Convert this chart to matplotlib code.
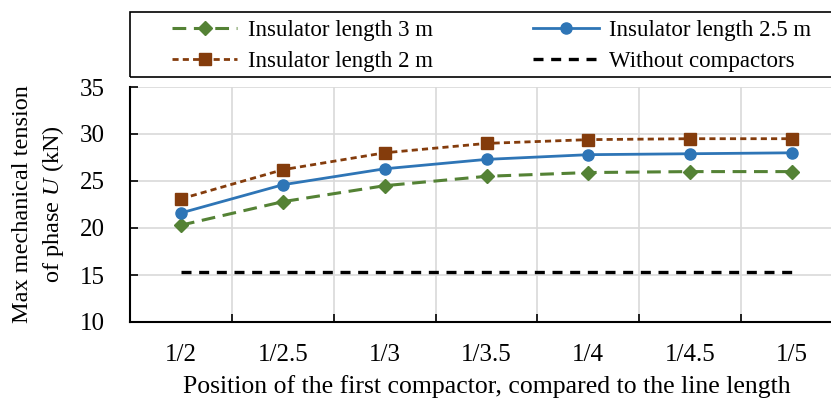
import matplotlib
matplotlib.use("Agg")
import matplotlib.pyplot as plt
from matplotlib.patches import Rectangle

plt.rcParams['font.family'] = ['Liberation Serif', 'DejaVu Serif']
plt.rcParams['mathtext.fontset'] = 'custom'
plt.rcParams['mathtext.rm'] = 'Liberation Serif'
plt.rcParams['mathtext.it'] = 'Liberation Serif:italic'

positions = ["1/2", "1/2.5", "1/3", "1/3.5", "1/4", "1/4.5", "1/5"]
len_3m = [20.3, 22.8, 24.5, 25.5, 25.9, 26.0, 26.0]
len_2_5m = [21.6, 24.6, 26.3, 27.3, 27.8, 27.9, 28.0]
len_2m = [23.1, 26.2, 28.0, 29.0, 29.4, 29.5, 29.5]
no_compactors = [15.3] * 7
y_ticks = [10, 15, 20, 25, 30, 35]

GREEN = "#548235"
BLUE = "#2E75B6"
BROWN = "#843C0C"

W, H = 831, 401
fig = plt.figure(figsize=(W / 100, H / 100), dpi=100)
ax = fig.add_axes([130 / W, 79 / H, 713 / W, 235 / H])

x = list(range(len(positions)))
l3, = ax.plot(x, len_3m, color=GREEN, lw=2.2, ls=(0, (4.5, 2.5)), marker="D",
              ms=7, label="Insulator length 3 m", zorder=4)
l25, = ax.plot(x, len_2_5m, color=BLUE, lw=2.0, ls="-", marker="o",
               ms=8, label="Insulator length 2.5 m", zorder=4)
l2, = ax.plot(x, len_2m, color=BROWN, lw=2.0, ls=(0, (2.2, 1.5)), marker="s",
              ms=8, label="Insulator length 2 m", zorder=4)
l0, = ax.plot(x, no_compactors, color="black", lw=2.4, ls=(0, (3, 2.3)),
              label="Without compactors", zorder=3)

ax.set_xlim(-0.5, 6.5)
ax.set_ylim(10, 35)
ax.set_yticks(y_ticks)
ax.set_yticklabels([str(v) for v in y_ticks])

# category labels centred, ticks and grid at category boundaries
ax.set_xticks(x)
ax.set_xticklabels(positions)
ax.set_xticks([i + 0.5 for i in range(-1, 7)], minor=True)
ax.tick_params(axis="x", which="major", length=0, pad=16, labelsize=18)
ax.tick_params(axis="x", which="minor", direction="in", length=6, width=1.2)
ax.tick_params(axis="y", direction="in", length=6, width=1.2, pad=18, labelsize=18)
ax.grid(True, axis="x", which="minor", color="#d9d9d9", lw=1.2)
ax.grid(True, axis="y", which="major", color="#d9d9d9", lw=1.2)
ax.set_axisbelow(True)

for s in ("top", "right"):
    ax.spines[s].set_visible(False)
for s in ("left", "bottom"):
    ax.spines[s].set_linewidth(1.5)

ax.set_xlabel("Position of the first compactor, compared to the line length",
              fontsize=18.5, labelpad=6)
ax.set_ylabel("Max mechanical tension\nof phase $U$ (kN)", fontsize=17.5,
              linespacing=1.35, labelpad=10)

# legend frame spanning the width above the plot
fig.patches.append(Rectangle((130 / W, 1 - 77 / H), 720 / W, 65 / H,
                             transform=fig.transFigure, fill=False,
                             edgecolor="black", lw=1.2))

leg = fig.legend(handles=[l3, l2, l25, l0], loc="upper left", ncol=2,
                 bbox_to_anchor=(172 / W, 1 - 20 / H), fontsize=16.5,
                 frameon=False, borderpad=0, borderaxespad=0,
                 handlelength=2.85, handletextpad=0.45, columnspacing=4.4,
                 labelspacing=0.42)

fig.savefig("out.png", dpi=100)
